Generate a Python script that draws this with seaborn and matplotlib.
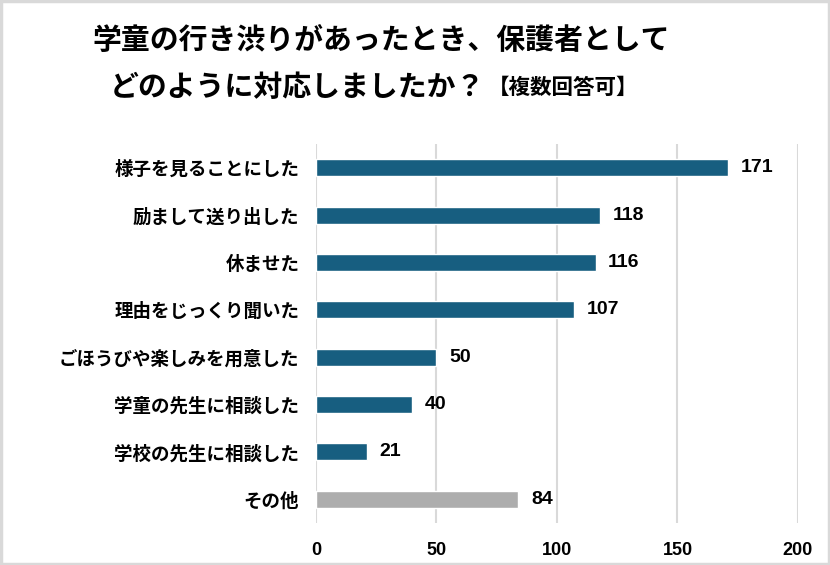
import matplotlib
matplotlib.use("Agg")
import matplotlib.pyplot as plt
import seaborn as sns
import pandas as pd
from matplotlib.patches import Rectangle

# データ
categories = ["様子を見ることにした", "励まして送り出した", "休ませた", "理由をじっくり聞いた",
              "ごほうびや楽しみを用意した", "学童の先生に相談した", "学校の先生に相談した", "その他"]
counts = [171, 118, 116, 107, 50, 40, 21, 84]
bar_colors = ["#175e80"] * 7 + ["#adadad"]
xticks = [0, 50, 100, 150, 200]

sns.set_theme(style="white")
plt.rcParams['font.family'] = ['Noto Sans CJK JP', 'DejaVu Sans']
plt.rcParams['text.color'] = 'black'

df = pd.DataFrame({"label": categories, "count": counts})

fig = plt.figure(figsize=(8.3, 5.65), dpi=100)
ax = fig.add_axes([0.3807, 0.0743, 0.5807, 0.6708])

sns.barplot(data=df, x="count", y="label", hue="label", palette=bar_colors,
            legend=False, width=0.36, ax=ax, saturation=1)

ax.set_xlim(0, 200)
ax.set_xticks(xticks)
ax.set_xticklabels([str(t) for t in xticks], fontsize=13, fontweight='bold', color='black',
                   family=['Liberation Sans', 'DejaVu Sans'])
ax.tick_params(axis='x', length=0, pad=14)
ax.tick_params(axis='y', length=0, pad=12, labelsize=13.3, labelcolor='black')
for lbl in ax.get_yticklabels():
    lbl.set_fontweight('bold')
ax.set_xlabel("")
ax.set_ylabel("")
ax.xaxis.grid(True, color="#d9d9d9", linewidth=1.5)
ax.set_axisbelow(True)
for s in ax.spines.values():
    s.set_visible(False)

# 値ラベル
for i, v in enumerate(counts):
    ax.text(v + 5.2, i, str(v), va='center', ha='left', fontsize=14, fontweight='bold',
            color='black', family=['Liberation Sans', 'DejaVu Sans'])

fig.text(0.111, 0.929, "学童の行き渋りがあったとき、保護者として", ha='left', va='center',
         fontsize=20.8, fontweight='bold')
fig.text(0.132, 0.846, "どのように対応しましたか？", ha='left', va='center',
         fontsize=20.8, fontweight='bold')
fig.text(0.588, 0.846, "【複数回答可】", ha='left', va='center',
         fontsize=15.5, fontweight='bold')

fig.patches.append(Rectangle((0.001, 0.001), 0.998, 0.998, transform=fig.transFigure,
                             fill=False, edgecolor="#d9d9d9", linewidth=2.5))

fig.savefig("out.png", dpi=100)
